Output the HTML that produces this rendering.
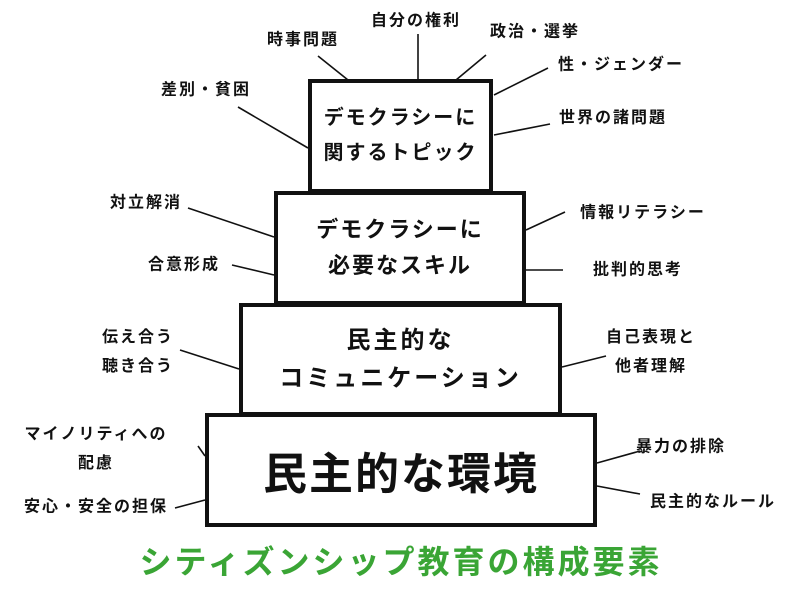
<!DOCTYPE html>
<html><head><meta charset="utf-8"><style>
body{margin:0;width:800px;height:599px;background:#fff;position:relative;overflow:hidden;font-family:"Liberation Sans","Noto Sans CJK JP",sans-serif;font-weight:bold;color:#111}
.b{position:absolute;border:4px solid #111;box-sizing:border-box;background:#fff;display:flex;flex-direction:column;align-items:center;justify-content:center;text-align:center}
.l{position:absolute;font-size:16px;letter-spacing:2px;padding-left:2px;white-space:nowrap;transform:translate(-50%,-50%);line-height:29px;text-align:center}
svg{position:absolute;left:0;top:0}
</style></head><body>
<svg width="800" height="599"><g stroke="#111" stroke-width="1.6">
<line x1="318" y1="56" x2="348" y2="80"/><line x1="418" y1="34" x2="418" y2="80"/><line x1="486" y1="55" x2="456" y2="80"/>
<line x1="548" y1="68" x2="494" y2="95"/><line x1="550" y1="124" x2="494" y2="135"/><line x1="238" y1="107" x2="308" y2="148"/>
<line x1="188" y1="208" x2="274" y2="237"/><line x1="232" y1="265" x2="274" y2="275"/>
<line x1="565" y1="212" x2="526" y2="230"/><line x1="563" y1="270" x2="526" y2="270"/>
<line x1="180" y1="350" x2="239" y2="369"/><line x1="606" y1="356" x2="562" y2="367"/>
<line x1="198" y1="446" x2="205" y2="456"/><line x1="175" y1="508" x2="205" y2="500"/>
<line x1="640" y1="451" x2="597" y2="463"/><line x1="640" y1="494" x2="597" y2="486"/>
</g></svg>
<div class="b" style="left:239px;top:303px;width:323px;height:113px;font-size:24px;letter-spacing:3px;line-height:38px">民主的な<br>コミュニケーション</div>
<div class="b" style="left:274px;top:191px;width:252px;height:114px;font-size:22px;letter-spacing:2px;line-height:36px">デモクラシーに<br>必要なスキル</div>
<div class="b" style="left:308px;top:79px;width:185px;height:114px;font-size:20px;letter-spacing:2px;line-height:35px">デモクラシーに<br>関するトピック</div>
<div class="b" style="left:205px;top:413px;width:392px;height:114px;font-size:44px;letter-spacing:2px">民主的な環境</div>
<div class="l" style="left:302px;top:40px">時事問題</div>
<div class="l" style="left:415px;top:21px">自分の権利</div>
<div class="l" style="left:534px;top:32px">政治・選挙</div>
<div class="l" style="left:620px;top:65px">性・ジェンダー</div>
<div class="l" style="left:612px;top:118px">世界の諸問題</div>
<div class="l" style="left:205px;top:90px">差別・貧困</div>
<div class="l" style="left:145px;top:203px">対立解消</div>
<div class="l" style="left:183px;top:265px">合意形成</div>
<div class="l" style="left:642px;top:213px">情報リテラシー</div>
<div class="l" style="left:637px;top:270px">批判的思考</div>
<div class="l" style="left:137px;top:352px">伝え合う<br>聴き合う</div>
<div class="l" style="left:650px;top:352px">自己表現と<br>他者理解</div>
<div class="l" style="left:95px;top:449px">マイノリティへの<br>配慮</div>
<div class="l" style="left:95px;top:507px">安心・安全の担保</div>
<div class="l" style="left:680px;top:447px">暴力の排除</div>
<div class="l" style="left:712px;top:502px">民主的なルール</div>
<div class="l" style="left:400px;top:562px;font-size:32px;letter-spacing:3px;color:#3aa535;line-height:36px">シティズンシップ教育の構成要素</div>
</body></html>
